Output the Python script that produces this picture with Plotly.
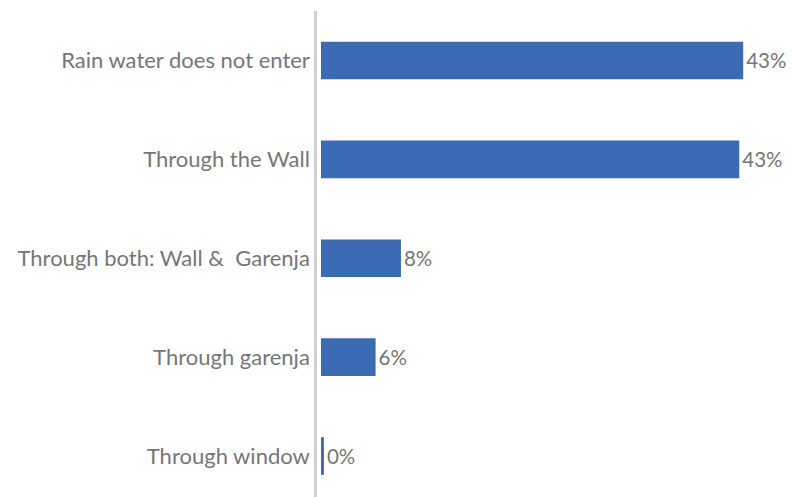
import plotly.graph_objects as go

# Survey responses: how rain water gets into the house (share of households, %)
categories = [
    "Rain water does not enter",
    "Through the Wall",
    "Through both: Wall &\u00a0 Garenja",
    "Through garenja",
    "Through window",
]
shares = [43.3, 42.9, 8.2, 5.6, 0.3]

BAR_COLOR = "#3c6bb4"
TEXT_COLOR = "#767676"
FONT = "Lato, 'Open Sans', sans-serif"

fig = go.Figure(
    go.Bar(
        x=shares,
        y=categories,
        orientation="h",
        marker=dict(color=BAR_COLOR, line=dict(width=0)),
        width=0.38,
        texttemplate="%{x:.0f}%",
        textposition="outside",
        textfont=dict(family=FONT, size=20.5, color=TEXT_COLOR),
        cliponaxis=False,
    )
)

fig.update_layout(
    width=793,
    height=497,
    margin=dict(l=317, r=0, t=10.5, b=0),
    paper_bgcolor="white",
    plot_bgcolor="white",
    showlegend=False,
    font=dict(family=FONT, size=22, color=TEXT_COLOR),
)

fig.update_xaxes(
    range=[-0.41, 48.41],
    visible=False,
    showgrid=False,
    zeroline=False,
)

fig.update_yaxes(
    categoryorder="array",
    categoryarray=categories,
    range=[4.414, -0.5],
    showline=True,
    linecolor="#d0d0d0",
    linewidth=2.5,
    showgrid=False,
    ticks="",
    ticklabelstandoff=0,
    tickfont=dict(family=FONT, size=22, color=TEXT_COLOR),
)

fig.write_html("out.html")
